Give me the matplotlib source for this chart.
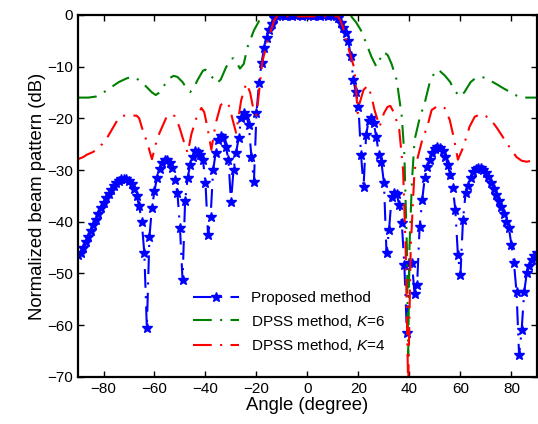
import numpy as np
import matplotlib
matplotlib.use("Agg")
import matplotlib.pyplot as plt

plt.rcParams['font.family'] = ['Liberation Sans', 'DejaVu Sans']
plt.rcParams['mathtext.fontset'] = 'custom'
plt.rcParams['mathtext.it'] = 'Liberation Sans:italic'
plt.rcParams['mathtext.rm'] = 'Liberation Sans'

# proposed method, one value per degree from -90 to 90
prop_angle = np.arange(-90, 91)
prop_db = [
    -46.5, -46, -45, -44, -43, -41.8, -40.7, -39.6, -38.5, -37.4,
    -36.4, -35.5, -34.6, -33.8, -33.1, -32.6, -32.1, -31.8, -31.7, -31.8,
    -32.1, -32.7, -33.6, -35, -37, -40, -46, -60.5, -43, -37.3,
    -34, -31.5, -29.8, -28.6, -28, -28, -28.6, -29.6, -32, -34.4,
    -41.2, -51.3, -36, -31.5, -29, -27.5, -26.4, -26.5, -27, -28,
    -32.5, -42.6, -39, -30, -26.7, -24.2, -23.5, -23.8, -25.5, -28,
    -36.2, -30, -26.7, -23.8, -20, -19, -19.5, -21.3, -27.4, -32.3,
    -19, -13.2, -9.3, -6.4, -4.5, -3, -1.8, -0.6,
    # -12 .. 11
    -0.3, -0.1, 0, -0.2, 0, -0.1, -0.2, 0, -0.1, 0, -0.2, -0.1,
    0, -0.1, -0.2, 0, -0.1, -0.2, 0, -0.1, -0.2, 0, -0.1, -0.3,
    # 12 .. 90
    -0.6, -1.6, -2.5, -3.5, -5, -8, -12.6, -15, -17.8, -27,
    -33.3, -23.2, -20.5, -20, -21, -23.6, -27, -28.5, -32.5, -46,
    -41.6, -35.2, -34.5, -34.6, -36.8, -40.2, -48.4, -61.5, -48, -48,
    -54, -52.2, -41, -35.8, -31.5, -29.5, -28, -26.8, -26, -25.6,
    -25.8, -26.3, -27.4, -29, -31, -33.5, -37.7, -46.4, -50.3, -39.7,
    -34.5, -33, -31.5, -30.4, -29.8, -29.6, -29.6, -29.9, -30.5, -31.3,
    -32.5, -33.6, -34.8, -36, -37.2, -38.5, -40, -41.2, -44.5, -48,
    -53.6, -65.8, -61, -53.6, -50, -48.5, -47.4, -46.6, -46,
]

# DPSS K=6
k6_angle = [-90, -86, -83, -80, -77, -74, -71, -69, -67, -64, -61, -59.5, -58, -56,
            -54, -52.5, -51, -49, -47, -46, -45, -43, -41, -40, -39, -37, -35.5, -34,
            -32, -30, -29, -28, -26.5, -25, -23.5, -21, -19, -17, -16, 16, 17, 19,
            21, 23, 25, 27, 28.5, 30, 31.5, 33, 35, 37, 38, 39, 39.5, 40,
            41, 42, 44, 46, 48, 50, 51, 52, 54, 56, 57.5, 59.7, 61.5, 64,
            66, 68, 70, 72, 74.5, 76.5, 79, 81, 83, 85, 90]
k6_db = [-16, -16, -15.8, -15, -14, -13, -12.3, -12, -12.3, -13.5, -15, -15.5, -15, -13.5,
         -12.2, -11.8, -12, -13, -14.5, -14.9, -14.5, -12.5, -10.8, -10.6, -11, -12.3, -13.2, -12.5,
         -10.2, -8.5, -8.4, -9, -10.4, -9.5, -6.2, -3, -1.2, -0.3, 0, 0, -0.2, -1.4,
         -3, -5.4, -8, -10, -8.5, -7.2, -7.8, -9.5, -12.6, -19.7, -27, -45, -66, -45,
         -32, -24.2, -20, -17, -13, -11, -10.6, -10.9, -11.8, -13, -14.5, -15.8, -15, -13,
         -12.2, -12, -12.2, -12.8, -13.5, -14.1, -14.8, -15.4, -15.8, -16, -16]

# DPSS K=4
k4_angle = [-90, -88, -86.4, -84, -82.5, -80.5, -78.6, -76.5, -74.7, -73, -71, -67, -66, -65,
            -63, -61, -59.5, -58, -55.5, -53.4, -52, -50.3, -48.5, -47, -45.5, -43.6, -41.6, -40.5,
            -39.3, -37.7, -36, -34, -32, -30.5, -29.5, -28, -26, -24, -22.5, -21, -20, -19,
            -17.7, -15, -13, -12, 12, 13, 14, 15.3, 17, 18.5, 19.7, 20.5, 22, 23.6,
            25, 26.3, 28.3, 30, 31.4, 32.5, 34, 36, 37.5, 38.5, 39.5, 40.5, 42, 45,
            47, 48.7, 50.5, 52.5, 53.8, 55.8, 57.5, 59, 61, 63.6, 65.6, 68, 70, 72,
            74.5, 77.4, 79.4, 82, 84, 86, 88, 90]
k4_db = [-27.9, -27.5, -27, -26.5, -25.8, -25, -23.8, -22, -20.5, -19.6, -19.4, -19.5, -20, -21.7,
         -24.5, -27.9, -25, -22.8, -20, -19.2, -19.6, -21.6, -24.5, -26.7, -23, -20, -18, -18.8,
         -21.6, -26.1, -21, -17.4, -16.8, -17.8, -20, -22.8, -16.5, -13.2, -15, -18.8, -19.4, -15,
         -9, -4, -1, -0.3, -0.3, -1.2, -2.5, -5.2, -8, -10.6, -19, -17, -14.5, -13.7,
         -15.5, -18.4, -21.6, -19, -17.8, -17.6, -19, -22.2, -30, -45, -72, -45, -30, -24.2,
         -21.6, -18.4, -17.8, -17.6, -18, -20.3, -24, -28, -25.7, -21.6, -19.7, -19.2, -19.6, -20.3,
         -22, -24.2, -25.7, -27.5, -28.2, -28.4, -28.2, -27.9]

fig = plt.figure(figsize=(5.38, 4.24), dpi=100)
ax = fig.add_axes([0.145, 0.111, 0.853, 0.854])

dashdot = (0, (9, 4, 1, 4))
ax.plot(prop_angle, prop_db, color='blue', lw=1.5, ls=dashdot,
        marker='*', ms=7.5, mew=1, label='Proposed method')
ax.plot(k6_angle, k6_db, color='green', lw=1.5, ls=dashdot,
        label='DPSS method, $K$=6')
ax.plot(k4_angle, k4_db, color='red', lw=1.5, ls=dashdot,
        label='DPSS method, $K$=4')

ax.set_xlim(-90, 90)
ax.set_ylim(-70, 0)
ax.set_xticks(range(-80, 81, 20))
ax.set_yticks(range(-70, 1, 10))
ax.tick_params(direction='in', top=True, right=True, labelsize=11, length=4, width=1)
for s in ax.spines.values():
    s.set_linewidth(1.6)
ax.set_xlabel('Angle (degree)', fontsize=13.3, labelpad=1)
ax.set_ylabel('Normalized beam pattern (dB)', fontsize=13.3, labelpad=1)

ax.legend(loc='upper left', bbox_to_anchor=(0.22, 0.275), frameon=False,
          fontsize=11, handlelength=3.0, labelspacing=0.5)

fig.savefig('out.png', dpi=100)
